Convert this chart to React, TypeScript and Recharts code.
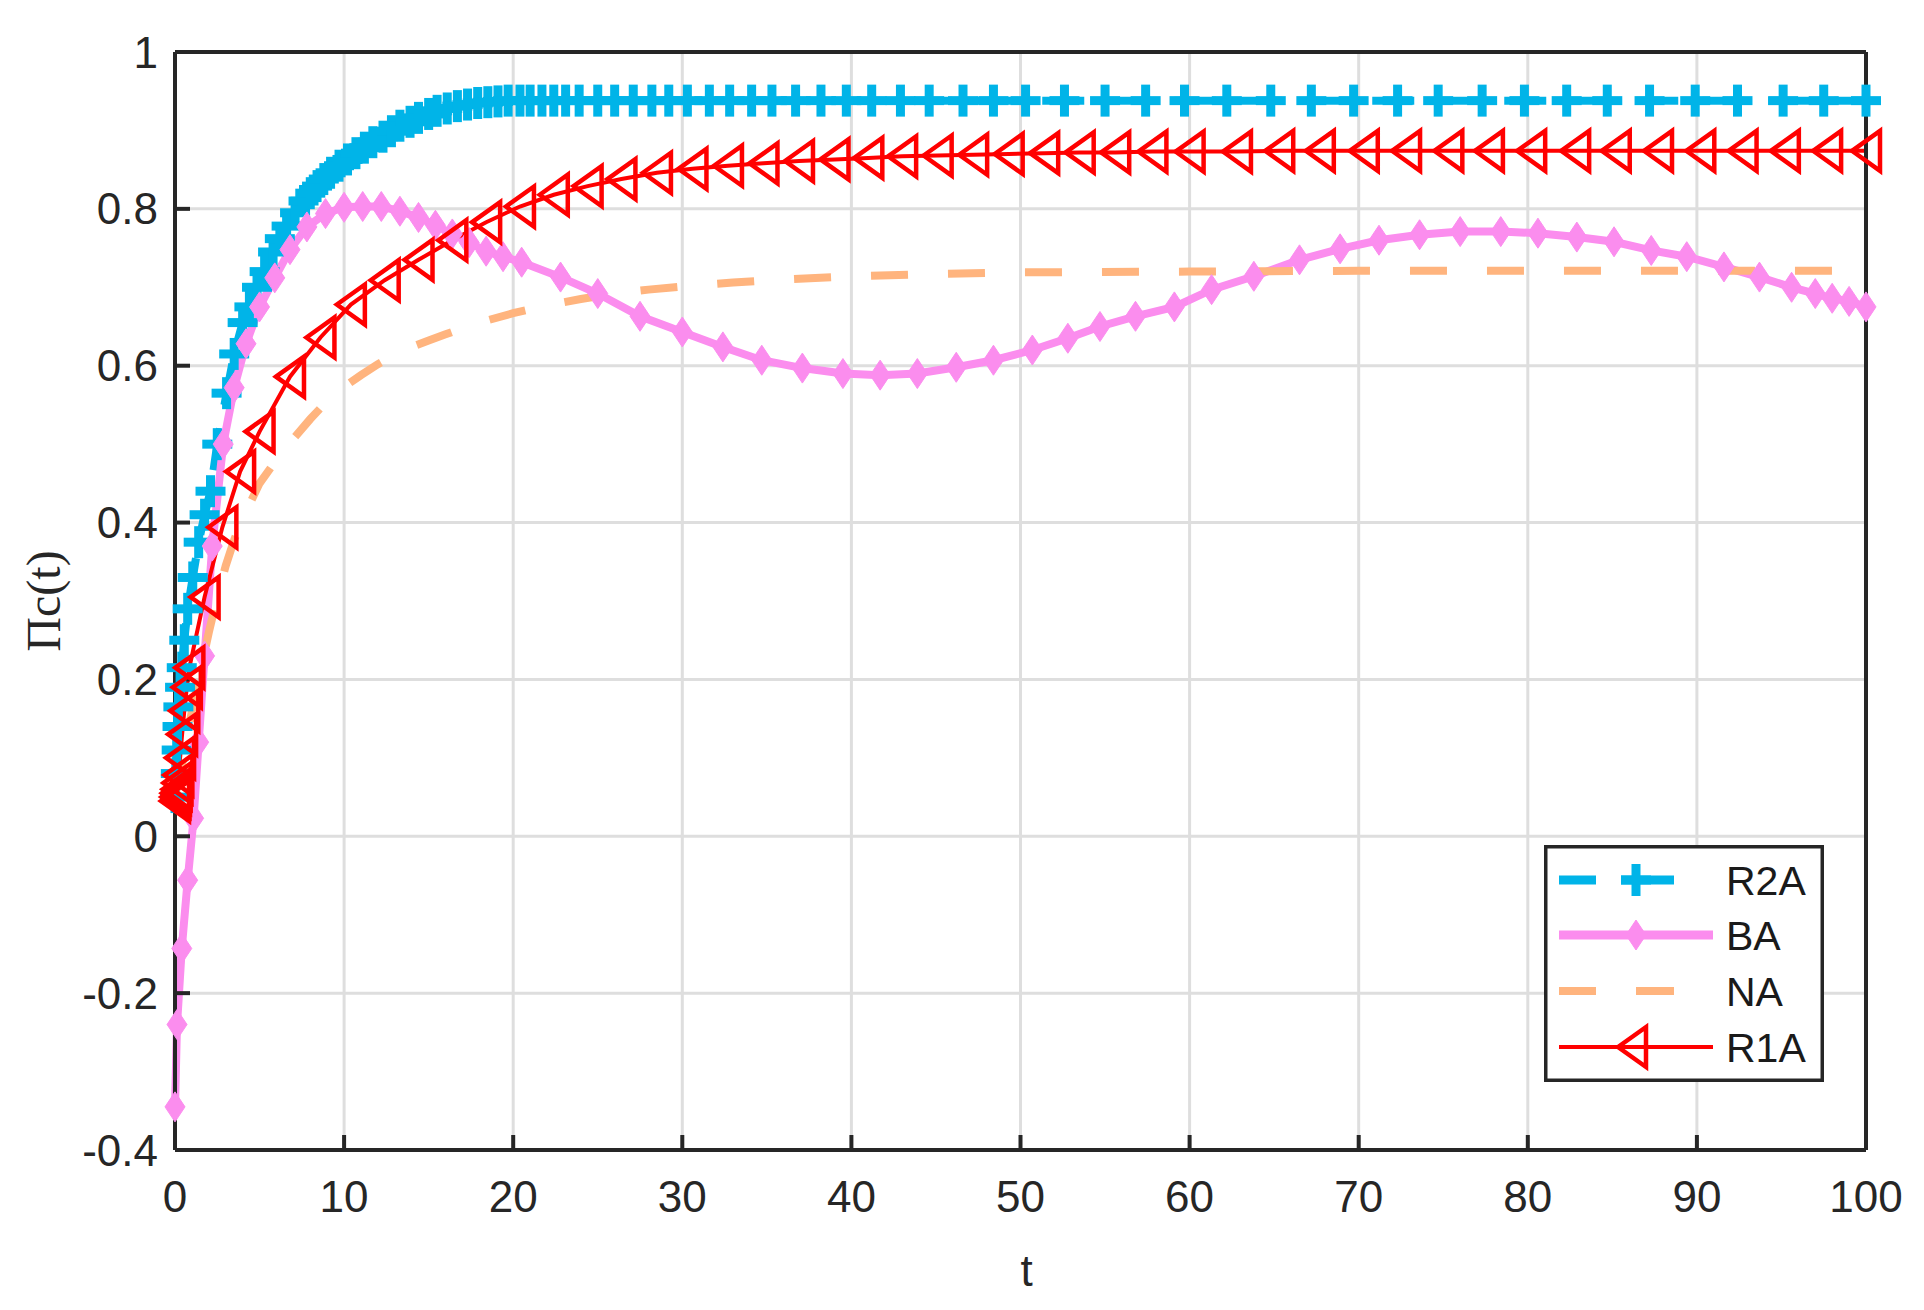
import React from 'react';
import { LineChart, Line, XAxis, YAxis, CartesianGrid, Legend, Label } from 'recharts';

const xTicks = [0, 10, 20, 30, 40, 50, 60, 70, 80, 90, 100];
const yTicks = [-0.4, -0.2, 0, 0.2, 0.4, 0.6, 0.8, 1];

const seriesNames = ['R2A', 'BA', 'NA', 'R1A'];

// R2A: dashed cyan with "+" markers
const r2aT = [
  0, 0.05, 0.1, 0.15, 0.2, 0.3, 0.4, 0.55, 0.75, 1.05,
  1.4, 1.75, 2.1, 2.5, 3.05, 3.5, 4.0, 4.4, 4.85, 5.3,
  5.8, 6.2, 6.6, 7.1, 7.6, 8.0, 8.4, 8.8, 9.2, 9.7,
  10.2, 10.7, 11.2, 11.7, 12.3, 12.8, 13.3, 13.9, 14.4, 15.0,
  15.5, 16.1, 16.7, 17.3, 17.9, 18.5, 19.1, 19.7, 20.4, 21.0,
  21.7, 22.4, 23.1, 23.9, 25.0, 26.0, 27.1, 28.2, 29.2, 30.3,
  31.6, 32.8, 34.1, 35.3, 36.7, 38.2, 39.7, 41.2, 42.9, 44.6,
  46.6, 48.4, 50.3, 52.6, 55.0, 57.4, 59.7, 62.2, 64.8, 67.2,
  69.7, 72.3, 74.7, 77.3, 79.8, 82.3, 84.7, 87.2, 89.9, 92.4,
  95.1, 97.5, 100,
];
const r2aV = [
  0.05, 0.08, 0.11, 0.14, 0.165, 0.19, 0.215, 0.25, 0.29, 0.33,
  0.375, 0.41, 0.44, 0.5, 0.565, 0.615, 0.655, 0.675, 0.7, 0.72,
  0.745, 0.762, 0.778, 0.795, 0.81, 0.82, 0.829, 0.838, 0.846, 0.855,
  0.863, 0.871, 0.878, 0.885, 0.892, 0.899, 0.906, 0.911, 0.916, 0.921,
  0.925, 0.928, 0.931, 0.933, 0.935, 0.936, 0.937, 0.938, 0.938, 0.938,
  0.938, 0.938, 0.938, 0.938, 0.938, 0.938, 0.938, 0.938, 0.938, 0.938,
  0.938, 0.938, 0.938, 0.938, 0.938, 0.938, 0.938, 0.938, 0.938, 0.938,
  0.938, 0.938, 0.938, 0.938, 0.938, 0.938, 0.938, 0.938, 0.938, 0.938,
  0.938, 0.938, 0.938, 0.938, 0.938, 0.938, 0.938, 0.938, 0.938, 0.938,
  0.938, 0.938, 0.938,
];

// BA: solid pink with diamond markers
const baT = [
  0, 0.12, 0.4, 0.75, 1.1, 1.4, 1.75, 2.2, 2.85, 3.5,
  4.2, 5.0, 5.9, 6.8, 7.8, 8.9, 10.0, 11.1, 12.2, 13.3,
  14.4, 15.4, 16.4, 17.4, 18.4, 19.4, 20.5, 22.8, 25.0, 27.5,
  30.0, 32.4, 34.7, 37.1, 39.5, 41.7, 43.9, 46.2, 48.4, 50.7,
  52.8, 54.7, 56.8, 59.1, 61.3, 63.8, 66.5, 68.9, 71.2, 73.6,
  76.0, 78.4, 80.6, 82.9, 85.1, 87.3, 89.4, 91.6, 93.7, 95.6,
  97.0, 98.0, 99.0, 100,
];
const baV = [
  -0.345, -0.24, -0.143, -0.056, 0.023, 0.12, 0.23, 0.37, 0.5, 0.572,
  0.628, 0.675, 0.712, 0.748, 0.777, 0.794, 0.802, 0.803, 0.803, 0.797,
  0.789, 0.779, 0.768, 0.757, 0.746, 0.739, 0.732, 0.713, 0.692, 0.663,
  0.643, 0.624, 0.607, 0.597, 0.59, 0.588, 0.59, 0.598, 0.607, 0.62,
  0.635, 0.65, 0.663, 0.675, 0.697, 0.714, 0.735, 0.749, 0.76, 0.767,
  0.771, 0.771, 0.769, 0.764, 0.758, 0.747, 0.739, 0.726, 0.713, 0.7,
  0.692, 0.686, 0.682, 0.675,
];

// NA: dashed orange, no markers
const naT = [
  0, 0.5, 1.0, 1.5, 2.0, 2.5, 3.0, 3.5, 4.0, 5.0,
  6.0, 7.0, 8.0, 9.0, 10, 11, 12, 13, 14, 15,
  16, 17, 18, 20, 22, 24, 26, 28, 30, 33,
  36, 40, 45, 50, 60, 70, 80, 90, 100,
];
const naV = [
  0.05, 0.1, 0.16, 0.21, 0.26, 0.305, 0.345, 0.378, 0.405, 0.45,
  0.48, 0.507, 0.532, 0.555, 0.573, 0.588, 0.602, 0.614, 0.624, 0.632,
  0.64, 0.648, 0.655, 0.667, 0.677, 0.685, 0.692, 0.697, 0.701, 0.706,
  0.71, 0.714, 0.717, 0.719, 0.72, 0.721, 0.721, 0.721, 0.721,
];

// R1A: thin red with left-pointing triangles
const r1aT = [
  0, 0.03, 0.06, 0.1, 0.15, 0.2, 0.3, 0.42, 0.55, 0.7,
  0.85, 1.75, 2.8, 3.85, 5.0, 6.8, 8.6, 10.4, 12.4, 14.4,
  16.4, 18.4, 20.4, 22.4, 24.4, 26.4, 28.5, 30.6, 32.7, 34.8,
  36.9, 39.0, 41.0, 43.0, 45.1, 47.2, 49.3, 51.4, 53.5, 55.6,
  57.8, 60.0, 62.8, 65.3, 67.7, 70.3, 72.8, 75.3, 77.7, 80.2,
  82.8, 85.2, 87.7, 90.2, 92.7, 95.2, 97.7, 100,
];
const r1aV = [
  0.045, 0.05, 0.055, 0.06, 0.068, 0.078, 0.1, 0.13, 0.16, 0.19,
  0.215, 0.305, 0.394, 0.465, 0.516, 0.586, 0.636, 0.678, 0.709, 0.735,
  0.76, 0.783, 0.803, 0.818, 0.829, 0.838, 0.846, 0.851, 0.855, 0.858,
  0.861, 0.863, 0.865, 0.867, 0.868, 0.869, 0.87, 0.871, 0.872, 0.872,
  0.873, 0.873, 0.873, 0.874, 0.874, 0.874, 0.874, 0.874, 0.874, 0.874,
  0.874, 0.874, 0.874, 0.874, 0.874, 0.874, 0.874, 0.874,
];

const toPoints = (ts: number[], vs: number[]) => ts.map((t, i) => ({ t, v: vs[i] }));

const r2aData = toPoints(r2aT, r2aV);
const baData = toPoints(baT, baV);
const naData = toPoints(naT, naV);
const r1aData = toPoints(r1aT, r1aV);

const C_R2A = '#00B4E8';
const C_BA = '#FB8DEE';
const C_NA = '#FFB47E';
const C_R1A = '#FF0000';
const AXIS = '#262626';
const GRID = '#dedede';
const FONT = '"Liberation Sans", Arial, Helvetica, sans-serif';

type Kind = 'plus' | 'diamond' | 'tri';

function drawMarker(kind: Kind, color: string, cx: number, cy: number, key?: string) {
  if (kind === 'plus') {
    return (
      <g key={key}>
        <line x1={cx - 15} y1={cy} x2={cx + 15} y2={cy} stroke={color} strokeWidth={9} />
        <line x1={cx} y1={cy - 16} x2={cx} y2={cy + 16} stroke={color} strokeWidth={9} />
      </g>
    );
  }
  if (kind === 'diamond') {
    return (
      <polygon
        key={key}
        points={`${cx},${cy - 15} ${cx + 10},${cy} ${cx},${cy + 15} ${cx - 10},${cy}`}
        fill={color}
        stroke={color}
        strokeWidth={1}
      />
    );
  }
  return (
    <polygon
      key={key}
      points={`${cx - 14},${cy} ${cx + 14},${cy - 20} ${cx + 14},${cy + 20}`}
      fill="none"
      stroke={color}
      strokeWidth={4.5}
      strokeLinejoin="miter"
    />
  );
}

const dotFor = (kind: Kind, color: string, prefix: string) => (props: any) => {
  const { cx, cy, index } = props;
  const key = `${prefix}-${index}`;
  if (cx == null || cy == null) return <g key={key} />;
  return drawMarker(kind, color, cx, cy, key);
};

function LegendBox() {
  const rows = [35, 90, 146, 202];
  return (
    <svg width={280} height={237} style={{ display: 'block' }}>
      <rect x={1.75} y={1.75} width={276.5} height={233.5} fill="#fff" stroke={AXIS} strokeWidth={3.5} />
      {/* R2A */}
      <line x1={15} y1={rows[0]} x2={52} y2={rows[0]} stroke={C_R2A} strokeWidth={9} />
      <line x1={77} y1={rows[0]} x2={130} y2={rows[0]} stroke={C_R2A} strokeWidth={9} />
      {drawMarker('plus', C_R2A, 92, rows[0])}
      {/* BA */}
      <line x1={15} y1={rows[1]} x2={169} y2={rows[1]} stroke={C_BA} strokeWidth={9} />
      {drawMarker('diamond', C_BA, 92, rows[1])}
      {/* NA */}
      <line x1={15} y1={rows[2]} x2={52} y2={rows[2]} stroke={C_NA} strokeWidth={8} />
      <line x1={92} y1={rows[2]} x2={130} y2={rows[2]} stroke={C_NA} strokeWidth={8} />
      {/* R1A */}
      <line x1={15} y1={rows[3]} x2={169} y2={rows[3]} stroke={C_R1A} strokeWidth={4} />
      {drawMarker('tri', C_R1A, 88, rows[3])}
      {seriesNames.map((name, i) => (
        <text key={name} x={182} y={rows[i] + 15} fontSize={41} fontFamily={FONT} fill="#1a1a1a">
          {name}
        </text>
      ))}
    </svg>
  );
}

function YTitle(props: any) {
  const vb = props.viewBox || { x: 0, y: 52, width: 175, height: 1098 };
  const cx = vb.x + 43;
  const cy = vb.y + vb.height / 2;
  return (
    <text
      x={cx}
      y={cy}
      transform={`rotate(-90, ${cx}, ${cy})`}
      textAnchor="middle"
      dominantBaseline="central"
      fontSize={48}
      fontFamily='"Liberation Serif", "Times New Roman", serif'
      fill={AXIS}
    >
      Πc(t)
    </text>
  );
}

function XTitle(props: any) {
  const vb = props.viewBox || { x: 175, y: 1150, width: 1691, height: 160 };
  return (
    <text
      x={vb.x + vb.width / 2 + 6}
      y={vb.y + 136}
      textAnchor="middle"
      fontSize={44}
      fontFamily={FONT}
      fill={AXIS}
    >
      t
    </text>
  );
}

const tickStyle = { fill: AXIS, fontSize: 44, fontFamily: FONT };
const axisLineStyle = { stroke: AXIS, strokeWidth: 4 };

export default function App() {
  return (
    <div style={{ position: 'absolute', left: 0, top: 0, width: 1924, height: 1310, background: '#fff' }}>
      <LineChart
        width={1924}
        height={1310}
        margin={{ top: 51, right: 57, bottom: 0, left: 0 }}
        style={{ fontFamily: FONT }}
      >
        <CartesianGrid stroke={GRID} strokeWidth={3} />
        <XAxis
          dataKey="t"
          type="number"
          domain={[0, 100]}
          ticks={xTicks}
          interval={0}
          height={160}
          axisLine={axisLineStyle}
          tickLine={axisLineStyle}
          tickSize={-15}
          tickMargin={46}
          tick={tickStyle}
        >
          <Label content={XTitle} />
        </XAxis>
        <XAxis
          xAxisId="top"
          orientation="top"
          dataKey="t"
          type="number"
          domain={[0, 100]}
          ticks={xTicks}
          interval={0}
          height={1}
          axisLine={axisLineStyle}
          tickLine={axisLineStyle}
          tickSize={-15}
          tick={false}
        />
        <YAxis
          type="number"
          domain={[-0.4, 1]}
          ticks={yTicks}
          interval={0}
          width={175}
          axisLine={axisLineStyle}
          tickLine={axisLineStyle}
          tickSize={-15}
          tickMargin={32}
          tick={tickStyle}
          tickFormatter={(v: number) => String(v)}
        >
          <Label content={YTitle} />
        </YAxis>
        <YAxis
          yAxisId="right"
          orientation="right"
          type="number"
          domain={[-0.4, 1]}
          ticks={yTicks}
          interval={0}
          width={1}
          axisLine={axisLineStyle}
          tickLine={axisLineStyle}
          tickSize={-15}
          tick={false}
        />
        <Line
          name="R2A"
          data={r2aData}
          dataKey="v"
          type="linear"
          stroke={C_R2A}
          strokeWidth={8}
          strokeDasharray="42 24"
          dot={dotFor('plus', C_R2A, 'r2a')}
          activeDot={false}
          isAnimationActive={false}
        />
        <Line
          name="BA"
          data={baData}
          dataKey="v"
          type="linear"
          stroke={C_BA}
          strokeWidth={8}
          dot={dotFor('diamond', C_BA, 'ba')}
          activeDot={false}
          isAnimationActive={false}
        />
        <Line
          name="NA"
          data={naData}
          dataKey="v"
          type="linear"
          stroke={C_NA}
          strokeWidth={8}
          strokeDasharray="37 40"
          dot={false}
          activeDot={false}
          isAnimationActive={false}
        />
        <Line
          name="R1A"
          data={r1aData}
          dataKey="v"
          type="linear"
          stroke={C_R1A}
          strokeWidth={4}
          dot={dotFor('tri', C_R1A, 'r1a')}
          activeDot={false}
          isAnimationActive={false}
        />
        <Legend
          layout="horizontal"
          verticalAlign="middle"
          align="center"
          content={() => <LegendBox />}
          wrapperStyle={{ position: 'absolute', left: 1544, top: 845, width: 280, height: 237 }}
        />
      </LineChart>
    </div>
  );
}
